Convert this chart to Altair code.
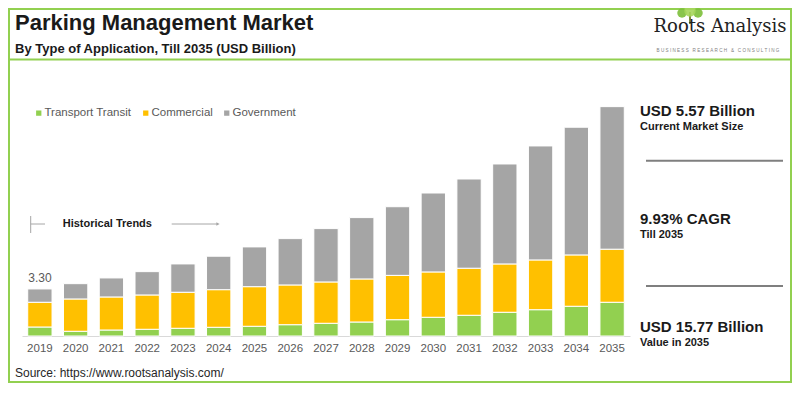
import altair as alt
import pandas as pd

# ---------------- data ----------------
years = ["2019", "2020", "2021", "2022", "2023", "2024", "2025", "2026", "2027",
         "2028", "2029", "2030", "2031", "2032", "2033", "2034", "2035"]
series = ["Transport Transit", "Commercial", "Government"]
transport = [0.63, 0.33, 0.42, 0.47, 0.54, 0.61, 0.68, 0.79, 0.89,
             0.98, 1.14, 1.31, 1.45, 1.66, 1.84, 2.08, 2.36]
commercial = [1.73, 2.26, 2.31, 2.40, 2.52, 2.63, 2.77, 2.78, 2.89,
              3.01, 3.10, 3.17, 3.29, 3.38, 3.48, 3.59, 3.71]
government = [0.93, 1.07, 1.33, 1.63, 1.98, 2.34, 2.78, 3.24, 3.73,
              4.29, 4.80, 5.52, 6.24, 6.99, 7.97, 8.93, 9.97]
colors = ["#92d050", "#ffc000", "#a5a5a5"]
label_years = ["2019"]
label_values = [3.30]
label_texts = ["3.30"]

rows = []
for i, y in enumerate(years):
    for k, (name, vals) in enumerate(zip(series, [transport, commercial, government])):
        rows.append({"year": y, "segment": name, "value": vals[i], "order": k})
df = pd.DataFrame(rows)
label_df = pd.DataFrame({"year": label_years, "value": label_values, "txt": label_texts})

# ---------------- layout ----------------
W, H = 608, 238
OX, OY = 22, 98          # page position of plot origin
GREEN = "#92d050"
FONT = "Liberation Sans"
NB = "\u00a0"


def px(x):
    return x - OX


def py(y):
    return y - OY


def dummy():
    return pd.DataFrame({"k": [0]})


def text(s, x, y, size, weight="bold", color="#1a1a1a", align="left",
         baseline="alphabetic", font=FONT):
    return alt.Chart(pd.DataFrame({"t": [s]})).mark_text(
        align=align, baseline=baseline, fontSize=size, fontWeight=weight,
        color=color, font=font
    ).encode(text="t:N", x=alt.value(px(x)), y=alt.value(py(y)))


def rule(x1, y1, x2, y2, color, width):
    return alt.Chart(dummy()).mark_rule(color=color, strokeWidth=width).encode(
        x=alt.value(px(x1)), x2=alt.value(px(x2)),
        y=alt.value(py(y1)), y2=alt.value(py(y2)))


def circle(x, y, size, color, opacity=1.0):
    return alt.Chart(dummy()).mark_circle(size=size, color=color, opacity=opacity).encode(
        x=alt.value(px(x)), y=alt.value(py(y)))


yscale = alt.Scale(domain=[0, H / 14.3], nice=False)

bars = alt.Chart(df).mark_bar(stroke="white", strokeWidth=1).encode(
    x=alt.X("year:O", sort=years,
            scale=alt.Scale(paddingInner=0.32, paddingOuter=0.16),
            axis=alt.Axis(title=None, labelAngle=0, ticks=False, labelPadding=6,
                          labelFontSize=11.5, labelColor="#595959", labelFont=FONT,
                          domainColor="#d9d9d9", domainWidth=1)),
    y=alt.Y("value:Q", stack="zero", scale=yscale, axis=None),
    color=alt.Color("segment:N", sort=series,
                    scale=alt.Scale(domain=series, range=colors),
                    legend=alt.Legend(title=None, orient="none", legendX=11, legendY=9,
                                      direction="horizontal", symbolType="square",
                                      symbolSize=28, symbolStrokeWidth=0,
                                      labelFontSize=11.5, labelColor="#595959",
                                      labelFont=FONT, columnPadding=8, padding=0,
                                      labelOffset=0)),
    order=alt.Order("order:Q", sort="ascending"),
)

value_label = alt.Chart(label_df).mark_text(
    fontSize=12, color="#595959", font=FONT, dy=-7, baseline="alphabetic"
).encode(x=alt.X("year:O", sort=years), y=alt.Y("value:Q", scale=yscale), text="txt:N")

tagline = (NB * 3).join(" ".join(w) for w in ["BUSINESS", "RESEARCH", "&", "CONSULTING"])
tagline = tagline.replace(" ", NB)

layers = [
    bars,
    value_label,
    # frame and header line
    alt.Chart(dummy()).mark_rect(fillOpacity=0, stroke=GREEN, strokeWidth=2).encode(
        x=alt.value(px(9)), x2=alt.value(px(791)), y=alt.value(py(9)), y2=alt.value(py(382))),
    rule(9, 59.5, 791, 59.5, GREEN, 2),
    # titles
    text("Parking Management Market", 15, 30, 22),
    text("By Type of Application, Till 2035 (USD Billion)", 15, 52.7, 13),
    # logo
    rule(690, 12, 690, 24, "#7a8b3a", 2),
    circle(682, 13, 90, "#7cbf3a", 0.9),
    circle(698, 13, 90, "#7cbf3a", 0.9),
    circle(690, 11, 130, "#a6d65c", 0.9),
    text("Roots Analysis", 720, 32.3, 18, weight="normal", color="#222222",
         align="center", font="DejaVu Serif"),
    text(tagline, 718, 52, 4.6, weight="normal", color="#7f7f7f", align="center"),
    # historical trends
    rule(30.7, 216, 30.7, 233, "#a6a6a6", 1),
    rule(30.7, 224, 45, 224, "#a6a6a6", 1),
    text("Historical Trends", 62.7, 227.3, 11),
    rule(171.7, 224, 218, 224, "#a6a6a6", 1),
    alt.Chart(dummy()).mark_point(shape="triangle-right", size=14, filled=True,
                                  color="#a6a6a6", opacity=1).encode(
        x=alt.value(px(218)), y=alt.value(py(224))),
    # right panel
    text("USD 5.57 Billion", 640, 116, 15),
    text("Current Market Size", 640, 129.5, 11),
    rule(646, 160.7, 783, 160.7, "#7f7f7f", 2),
    text("9.93% CAGR", 640, 224, 15),
    text("Till 2035", 640, 237.7, 11),
    rule(646, 286, 783, 286, "#7f7f7f", 2),
    text("USD 15.77 Billion", 640, 332.3, 15),
    text("Value in 2035", 640, 346, 11),
    # source
    text("Source: https://www.rootsanalysis.com/", 15, 376.5, 12, weight="normal",
         color="#262626"),
]

chart = alt.layer(*layers).properties(
    width=W, height=H,
    autosize=alt.AutoSizeParams(type="none"),
    padding={"left": 14, "top": 90, "right": 162, "bottom": 47},
    background="white",
).configure(font=FONT).configure_view(strokeWidth=0)

chart.save("out.html", embed_options={"renderer": "svg", "actions": False})
